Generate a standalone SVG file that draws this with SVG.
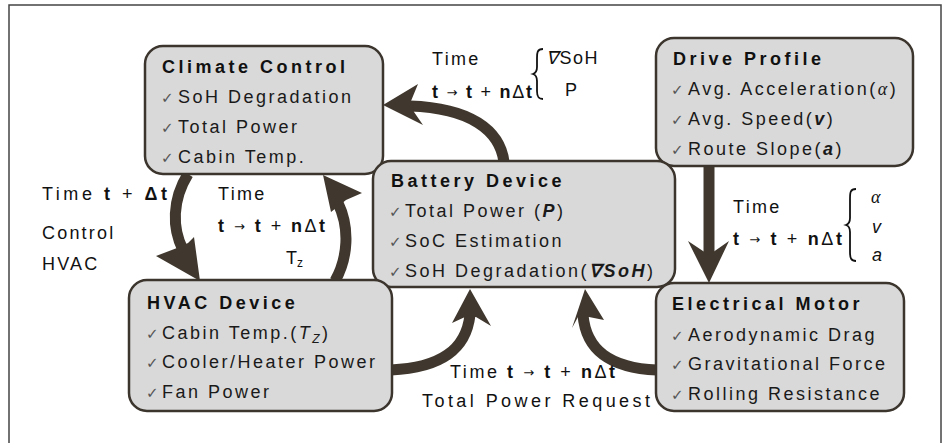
<svg xmlns="http://www.w3.org/2000/svg" width="946" height="443" viewBox="0 0 946 443">
<style>
.frame{fill:#fff;stroke:#444;stroke-width:1.5}
.box{fill:#d9d9d9;stroke:#3b352e;stroke-width:2.5}
.t{font-family:"Liberation Sans",Arial,sans-serif;font-size:18px;font-weight:bold;letter-spacing:3.5px;fill:#111}
.i{font-family:"Liberation Sans",Arial,sans-serif;font-size:18px;letter-spacing:2.5px;fill:#1a1a1a}
.ck{font-family:"DejaVu Sans",sans-serif;font-size:15px;fill:#555}
.lb{font-family:"Liberation Sans",Arial,sans-serif;font-size:18px;fill:#111}
.b{font-weight:bold}
.bi{font-weight:bold;font-style:italic}
.it{font-style:italic}
.m{font-family:"Liberation Serif",serif;font-style:italic}
.ar{font-family:"DejaVu Sans",sans-serif;font-size:13px}
.shaft{fill:none;stroke:#40382e;stroke-width:11}
.head{fill:#40382e}
.brace{fill:none;stroke:#111;stroke-width:1.8}
</style>
<rect class="frame" x="9" y="5" width="932" height="460"/>
<g id="connectors">
  <path class="shaft" d="M504,162 C500,130 470,108 410,106"/>
  <polygon class="head" points="383,105 418,84 411,101 414,112 423,125"/>
  <path class="shaft" d="M188,174 C172,200 172,228 183,250"/>
  <polygon class="head" points="200,281 156,256 177,248 188,243 194,237"/>
  <path class="shaft" d="M335,281 C348,258 350,228 338,203"/>
  <polygon class="head" points="323,175 362,193 346,200 331,212"/>
  <path class="shaft" d="M391,370 C440,368 466,350 470,315"/>
  <polygon class="head" points="470,289 491,326 476,317 465,317 452,323"/>
  <path class="shaft" d="M657,370 C610,368 586,350 583,315"/>
  <polygon class="head" points="585,289 604,320 589,317 578,317 572,328"/>
  <path class="shaft" d="M709,166 L709,256"/>
  <polygon class="head" points="688,241 709,255 729,241 709,283"/>
</g>
<g id="labels">
  <text class="lb" x="432" y="65" letter-spacing="2.3">Time</text>
  <text class="lb" x="432" y="98" textLength="100"><tspan class="b">t</tspan> <tspan class="ar" dy="-1">→</tspan> <tspan class="b" dy="1">t</tspan> + <tspan class="b">n</tspan>Δ<tspan class="b">t</tspan></text>
  <path class="brace" d="M543,49 C537,49 537,53 537,58 L537,67 C537,71 536,73 533,74 C536,75 537,77 537,81 L537,91 C537,96 538,99 543,99"/>
  <text class="lb" x="546" y="64" letter-spacing="1.5"><tspan class="it">∇</tspan>SoH</text>
  <text class="lb" x="565" y="96">P</text>

  <text class="lb" x="42" y="200" textLength="125">Time <tspan class="b">t</tspan> + <tspan class="b">Δt</tspan></text>
  <text class="lb" x="42" y="239" letter-spacing="2.2">Control</text>
  <text class="lb" x="42" y="270" letter-spacing="2.2">HVAC</text>

  <text class="lb" x="218" y="200" letter-spacing="2.3">Time</text>
  <text class="lb" x="218" y="232" textLength="107"><tspan class="b">t</tspan> <tspan class="ar" dy="-1">→</tspan> <tspan class="b" dy="1">t</tspan> + <tspan class="b">n</tspan>Δ<tspan class="b">t</tspan></text>
  <text class="lb" x="286" y="264">T<tspan font-size="12" dy="3">z</tspan></text>

  <text class="lb" x="733" y="213" letter-spacing="2.3">Time</text>
  <text class="lb" x="733" y="245" textLength="109"><tspan class="b">t</tspan> <tspan class="ar" dy="-1">→</tspan> <tspan class="b" dy="1">t</tspan> + <tspan class="b">n</tspan>Δ<tspan class="b">t</tspan></text>
  <path class="brace" d="M856,189 C850,189 850,193 850,199 L850,218 C850,222 849,224 846,225 C849,226 850,228 850,232 L850,252 C850,258 851,261 856,261"/>
  <text class="lb m" x="871" y="203">α</text>
  <text class="lb it" x="872" y="233">v</text>
  <text class="lb it" x="872" y="261">a</text>

  <text class="lb" x="450" y="378" textLength="165">Time <tspan class="b">t</tspan> <tspan class="ar" dy="-1">→</tspan> <tspan class="b" dy="1">t</tspan> + <tspan class="b">n</tspan>Δ<tspan class="b">t</tspan></text>
  <text class="lb" x="422" y="407" textLength="228">Total Power Request</text>
</g>
<g id="climate-control">
  <rect class="box" x="145" y="46" width="238" height="128" rx="18"/>
  <text class="t" x="162" y="73">Climate Control</text>
  <text class="ck" x="161" y="103">✓</text><text class="i" x="178" y="103">SoH Degradation</text>
  <text class="ck" x="161" y="133">✓</text><text class="i" x="178" y="133">Total Power</text>
  <text class="ck" x="161" y="163">✓</text><text class="i" x="178" y="163">Cabin Temp.</text>
</g>
<g id="drive-profile">
  <rect class="box" x="656" y="38" width="257" height="128" rx="18"/>
  <text class="t" x="673" y="65">Drive Profile</text>
  <text class="ck" x="671" y="95">✓</text><text class="i" x="688" y="95">Avg. Acceleration(<tspan class="m">α</tspan>)</text>
  <text class="ck" x="671" y="125">✓</text><text class="i" x="688" y="125">Avg. Speed(<tspan class="bi">v</tspan>)</text>
  <text class="ck" x="671" y="155">✓</text><text class="i" x="688" y="155">Route Slope(<tspan class="bi">a</tspan>)</text>
</g>
<g id="battery-device">
  <rect class="box" x="373" y="161" width="302" height="126" rx="18"/>
  <text class="t" x="391" y="187">Battery Device</text>
  <text class="ck" x="389" y="217">✓</text><text class="i" x="405" y="217">Total Power (<tspan class="bi">P</tspan>)</text>
  <text class="ck" x="389" y="247">✓</text><text class="i" x="405" y="247">SoC Estimation</text>
  <text class="ck" x="389" y="277">✓</text><text class="i" x="405" y="277">SoH Degradation(<tspan class="bi">∇SoH</tspan>)</text>
</g>
<g id="hvac-device">
  <rect class="box" x="129" y="280" width="263" height="131" rx="18"/>
  <text class="t" x="147" y="309">HVAC Device</text>
  <text class="ck" x="146" y="339">✓</text><text class="i" x="162" y="339">Cabin Temp.(<tspan class="it">T</tspan><tspan class="it" font-size="12" dy="4">Z</tspan><tspan dy="-4">)</tspan></text>
  <text class="ck" x="146" y="368">✓</text><text class="i" x="162" y="368">Cooler/Heater Power</text>
  <text class="ck" x="146" y="398">✓</text><text class="i" x="162" y="398">Fan Power</text>
</g>
<g id="electrical-motor">
  <rect class="box" x="656" y="283" width="248" height="128" rx="18"/>
  <text class="t" x="672" y="310">Electrical Motor</text>
  <text class="ck" x="671" y="341">✓</text><text class="i" x="688" y="341">Aerodynamic Drag</text>
  <text class="ck" x="671" y="370">✓</text><text class="i" x="688" y="370">Gravitational Force</text>
  <text class="ck" x="671" y="400">✓</text><text class="i" x="688" y="400">Rolling Resistance</text>
</g>
</svg>
